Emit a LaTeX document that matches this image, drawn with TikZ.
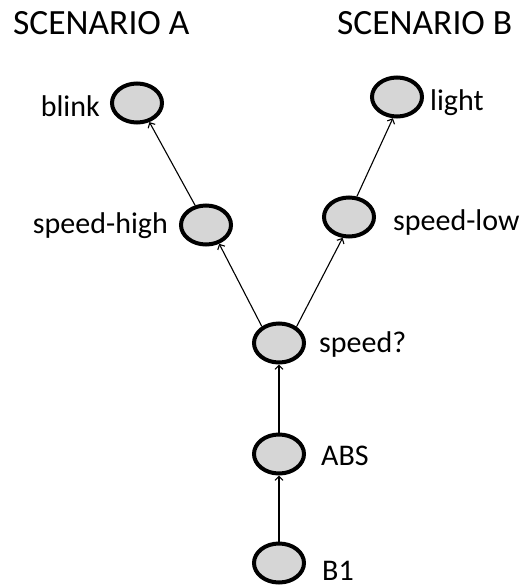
\documentclass[tikz,border=0pt]{standalone}
\usepackage{fontspec}
\setmainfont{Carlito}
\usetikzlibrary{shapes.geometric,arrows.meta}
\begin{document}
\begin{tikzpicture}[x=1pt,y=-1pt,
  state/.style={ellipse,draw=black,fill=black!16,line width=4pt,minimum width=50pt,minimum height=39pt,inner sep=0pt},
  lbl/.style={font=\fontsize{30}{32}\selectfont,inner sep=0pt},
  ttl/.style={font=\fontsize{35.5}{38}\selectfont,inner sep=0pt},
  edge/.style={line width=1.1pt,-{Straight Barb[length=4pt,width=8pt]}}]
\useasboundingbox (0,0) rectangle (521,586);
\node[state] (blink) at (137,103) {};
\node[state] (light) at (397,97) {};
\node[state] (sh) at (206,225) {};
\node[state] (sl) at (349,217) {};
\node[state] (sq) at (279,343) {};
\node[state] (abs) at (279,454) {};
\node[state] (b1) at (279,563) {};
\node[ttl,anchor=base west] (ta) at (13,35) {SCENARIO A};
\node[ttl,anchor=base west] (tb) at (337,35) {SCENARIO B};
\node[lbl,anchor=base east] (lblink) at (100,116) {blink};
\node[lbl,anchor=base west] (llight) at (430,110) {light};
\node[lbl,anchor=base east] (lsh) at (168,233) {speed-high};
\node[lbl,anchor=base west] (lsl) at (393,230) {speed-low};
\node[lbl,anchor=base west] (lsq) at (319,352) {speed?};
\node[lbl,anchor=base west] (labs) at (321,465) {ABS};
\node[lbl,anchor=base west] (lb1) at (322,580) {B1};
\draw[edge] (b1) -- (abs);
\draw[edge] (abs) -- (sq);
\draw[edge] (sq.136) -- (sh.-55);
\draw[edge] (sq.43) -- (sl.-107);
\draw[edge] (sh.119) -- (blink.-57);
\draw[edge] (sl.69) -- (light.-101);
\end{tikzpicture}
\end{document}
